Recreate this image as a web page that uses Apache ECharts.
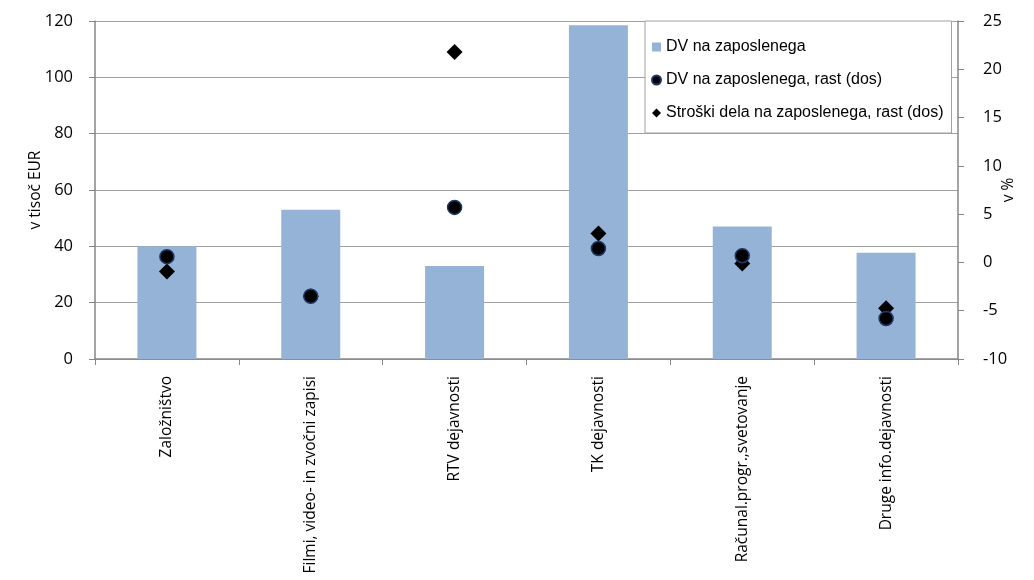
<!DOCTYPE html>
<html>
<head>
<meta charset="utf-8">
<script src="https://cdn.jsdelivr.net/npm/echarts@6/dist/echarts.min.js"></script>
<style>html,body{margin:0;padding:0;background:#fff;}#c{width:1034px;height:580px;}</style>
</head>
<body>
<div id="c"></div>
<script>
const categories = ['Založništvo', 'Filmi, video- in zvočni zapisi', 'RTV dejavnosti', 'TK dejavnosti', 'Računal.progr.,svetovanje', 'Druge info.dejavnosti'];
const dvNaZaposlenega = [40, 53, 33, 118.5, 47, 37.7];
const dvRast = [0.6, -3.5, 5.7, 1.45, 0.7, -5.8];
const stroskiRast = [-0.95, -3.5, 21.8, 3.0, -0.1, -4.75];
const leftTicks = [0, 120, 20];
const rightTicks = [-10, 25, 5];

const axisGray = '#868686';
const font = 'Open Sans';
const chart = echarts.init(document.getElementById('c'));
chart.setOption({
  animation: false,
  grid: { left: 95, right: 76, top: 21, bottom: 221, containLabel: false, outerBoundsMode: 'none' },
  legend: {
    orient: 'vertical',
    left: 645, top: 21,
    padding: [18, 8, 12, 6],
    itemGap: 17,
    itemWidth: 9, itemHeight: 9,
    backgroundColor: '#fff',
    borderColor: '#a0a0a0', borderWidth: 1,
    textStyle: { fontFamily: 'Liberation Sans', fontSize: 16, color: '#000' },
    data: [
      { name: 'DV na zaposlenega', icon: 'rect' },
      { name: 'DV na zaposlenega, rast (dos)', icon: 'circle' },
      { name: 'Stroški dela na zaposlenega, rast (dos)', icon: 'diamond' }
    ]
  },
  xAxis: {
    type: 'category',
    data: categories,
    boundaryGap: true,
    axisLine: { lineStyle: { color: axisGray, width: 1.5 } },
    axisTick: { show: true, alignWithLabel: false, length: 6, lineStyle: { color: axisGray } },
    axisLabel: { rotate: 90, margin: 17, fontFamily: font, fontSize: 15.5, color: '#000', interval: 0 }
  },
  yAxis: [
    {
      type: 'value', min: leftTicks[0], max: leftTicks[1], interval: leftTicks[2],
      name: 'v tisoč EUR', nameLocation: 'middle', nameRotate: 90, nameGap: 51, nameMoveOverlap: false,
      nameTextStyle: { fontFamily: font, fontSize: 15.5, color: '#000' },
      axisLine: { show: true, lineStyle: { color: axisGray, width: 1.5 } },
      axisTick: { show: true, length: 6, lineStyle: { color: axisGray } },
      splitLine: { show: true, lineStyle: { color: '#a0a0a0', width: 1.2 } },
      axisLabel: { margin: 22, fontFamily: font, fontSize: 16.5, color: '#000' }
    },
    {
      type: 'value', min: rightTicks[0], max: rightTicks[1], interval: rightTicks[2],
      name: 'v %', nameLocation: 'middle', nameRotate: 90, nameGap: 43, nameMoveOverlap: false,
      nameTextStyle: { fontFamily: font, fontSize: 15.5, color: '#000' },
      axisLine: { show: true, lineStyle: { color: axisGray, width: 1.5 } },
      axisTick: { show: true, length: 6, lineStyle: { color: axisGray } },
      splitLine: { show: false },
      axisLabel: { margin: 25, fontFamily: font, fontSize: 16.5, color: '#000' }
    }
  ],
  series: [
    {
      name: 'DV na zaposlenega', type: 'bar', data: dvNaZaposlenega,
      barWidth: 59, itemStyle: { color: '#95b3d7' }, z: 2
    },
    {
      name: 'Stroški dela na zaposlenega, rast (dos)', type: 'scatter', yAxisIndex: 1,
      data: stroskiRast, symbol: 'diamond', symbolSize: 16,
      itemStyle: { color: '#000', opacity: 1 }, z: 3
    },
    {
      name: 'DV na zaposlenega, rast (dos)', type: 'scatter', yAxisIndex: 1,
      data: dvRast, symbol: 'circle', symbolSize: 14,
      itemStyle: { color: '#000', borderColor: '#1f3864', borderWidth: 1.5, opacity: 1 }, z: 4
    }
  ]
});
</script>
</body>
</html>
